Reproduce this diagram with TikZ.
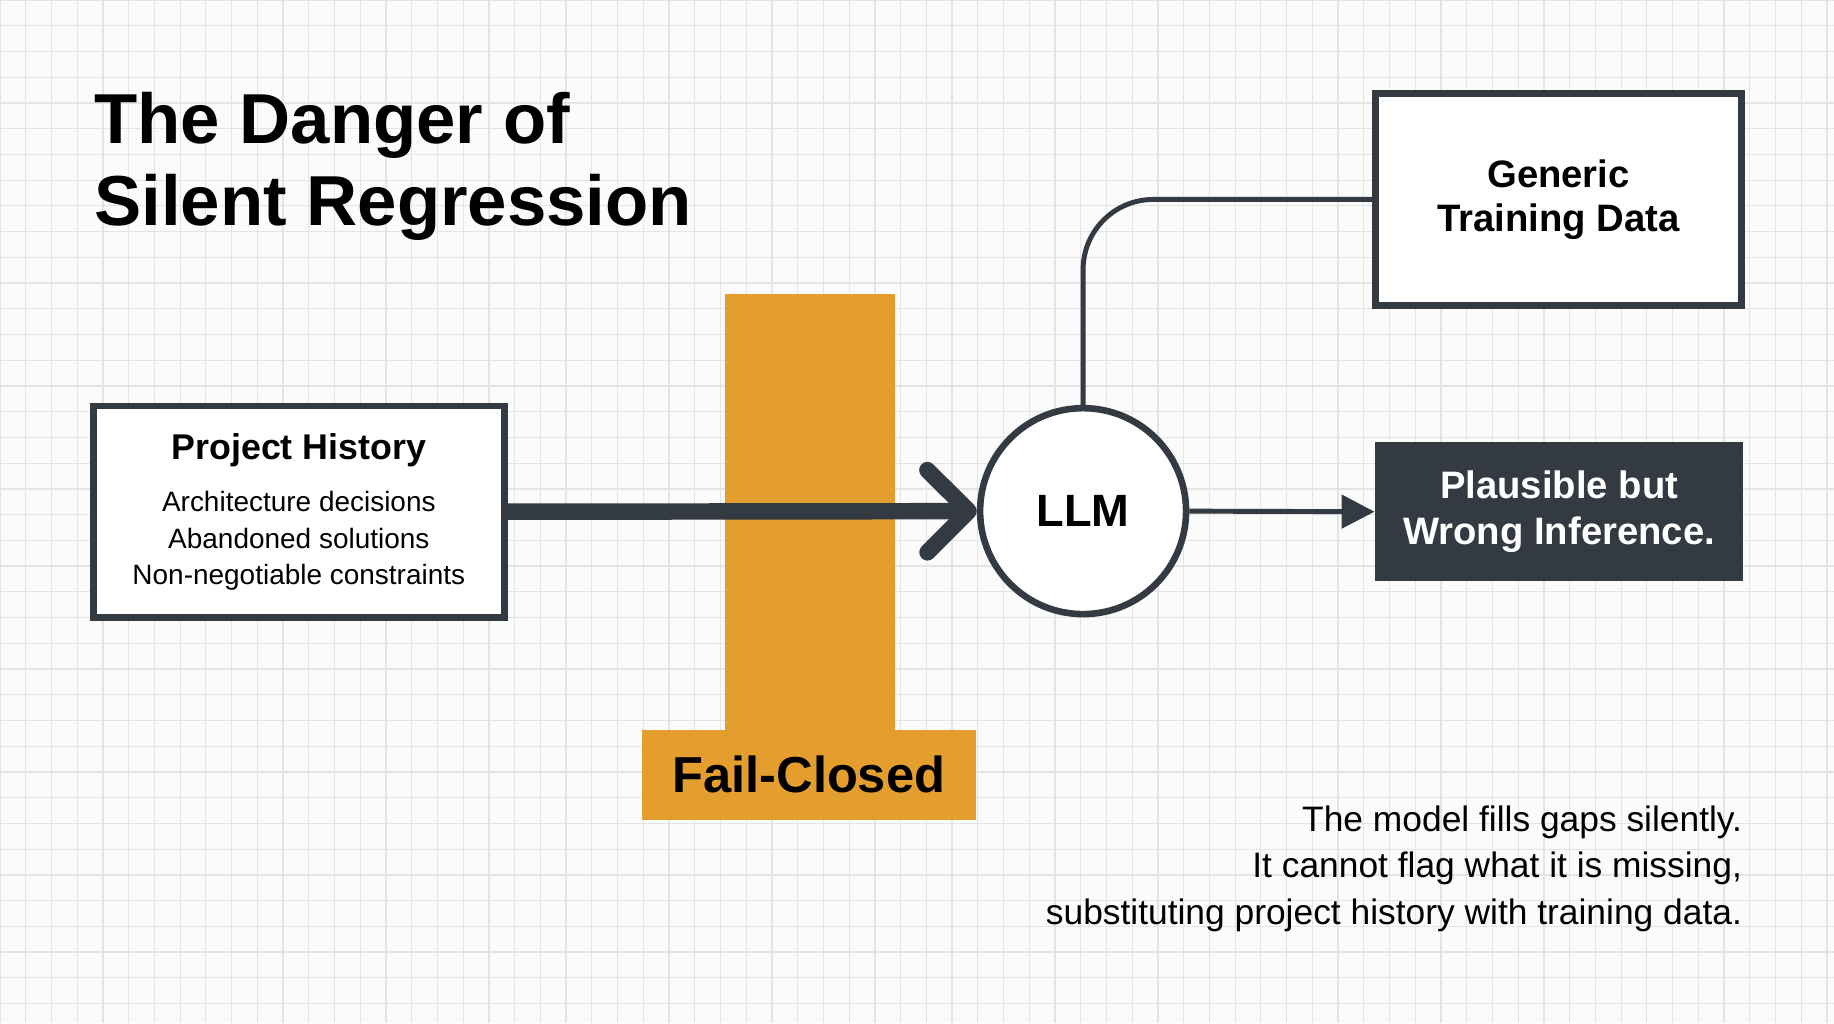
\documentclass[tikz,border=0pt]{standalone}
\usepackage{fontspec}
\setmainfont{Liberation Sans}
\usetikzlibrary{arrows.meta,positioning}
\definecolor{ink}{HTML}{333A41}
\definecolor{amber}{HTML}{E39E2E}
\definecolor{gridgray}{HTML}{E4E4E4}
\tikzset{
  box/.style={draw=ink,line width=1.6pt,fill=white,align=center,inner sep=0pt},
  darkbox/.style={fill=ink,text=white,align=center,inner sep=0pt,font=\bfseries\fontsize{9.3}{11}\selectfont},
}
\begin{document}
\begin{tikzpicture}[x=0.01cm,y=-0.01cm]
\useasboundingbox (0,0) rectangle (1568,875);
\fill[white!97!gray] (0,0) rectangle (1568,875);
% grid
\foreach \gx in {0,22,...,1568} \draw[gridgray,line width=0.3pt] (\gx,0) -- (\gx,875);
\foreach \gy in {0,22,...,875} \draw[gridgray,line width=0.3pt] (0,\gy) -- (1568,\gy);
% title
\node[anchor=north west,align=left,inner sep=0pt,font=\bfseries\fontsize{17.2}{20}\selectfont] (title) at (80,78) {The Danger of\\Silent Regression};
% barrier
\fill[amber] (620,251) rectangle (765,625);
\node[fill=amber,inner sep=0pt,minimum width=2.85cm,minimum height=0.77cm,font=\bfseries\fontsize{12.3}{14}\selectfont] (fail) at (691.5,662.5) {Fail-Closed};
% nodes
\node[box,minimum width=3.51cm,minimum height=1.81cm,font=\fontsize{6.8}{8.8}\selectfont] (hist) at (255.5,437.5)
  {\textbf{\fontsize{8.7}{11}\selectfont Project History}\\[4pt] Architecture decisions\\Abandoned solutions\\Non-negotiable constraints};
\node[circle,draw=ink,line width=1.6pt,fill=white,minimum size=1.76cm,font=\bfseries\fontsize{11}{13}\selectfont] (llm) at (926,437) {LLM};
\node[box,minimum width=3.13cm,minimum height=1.81cm,font=\bfseries\fontsize{9.3}{10.8}\selectfont] (data) at (1332.5,170.5) {Generic\\Training Data};
\node[darkbox,minimum width=3.14cm,minimum height=1.19cm] (wrong) at (1333,437.5) {Plausible but\\Wrong Inference.};
% connectors
\draw[ink,line width=4pt,-{Straight Barb[length=10pt,width=20pt,line width=4pt,round]}] (hist.east) -- (llm.west);
\draw[ink,line width=1.2pt,-{Triangle[length=8pt,width=8pt]}] (llm.east) -- (wrong.west);
\draw[ink,line width=1.2pt,rounded corners=0.6cm] (llm.north) |- (data.west);
% note
\node[anchor=north east,align=right,inner sep=0pt,font=\fontsize{8.6}{11.3}\selectfont] (note) at (1490,688) {The model fills gaps silently.\\It cannot flag what it is missing,\\substituting project history with training data.};
\end{tikzpicture}
\end{document}
